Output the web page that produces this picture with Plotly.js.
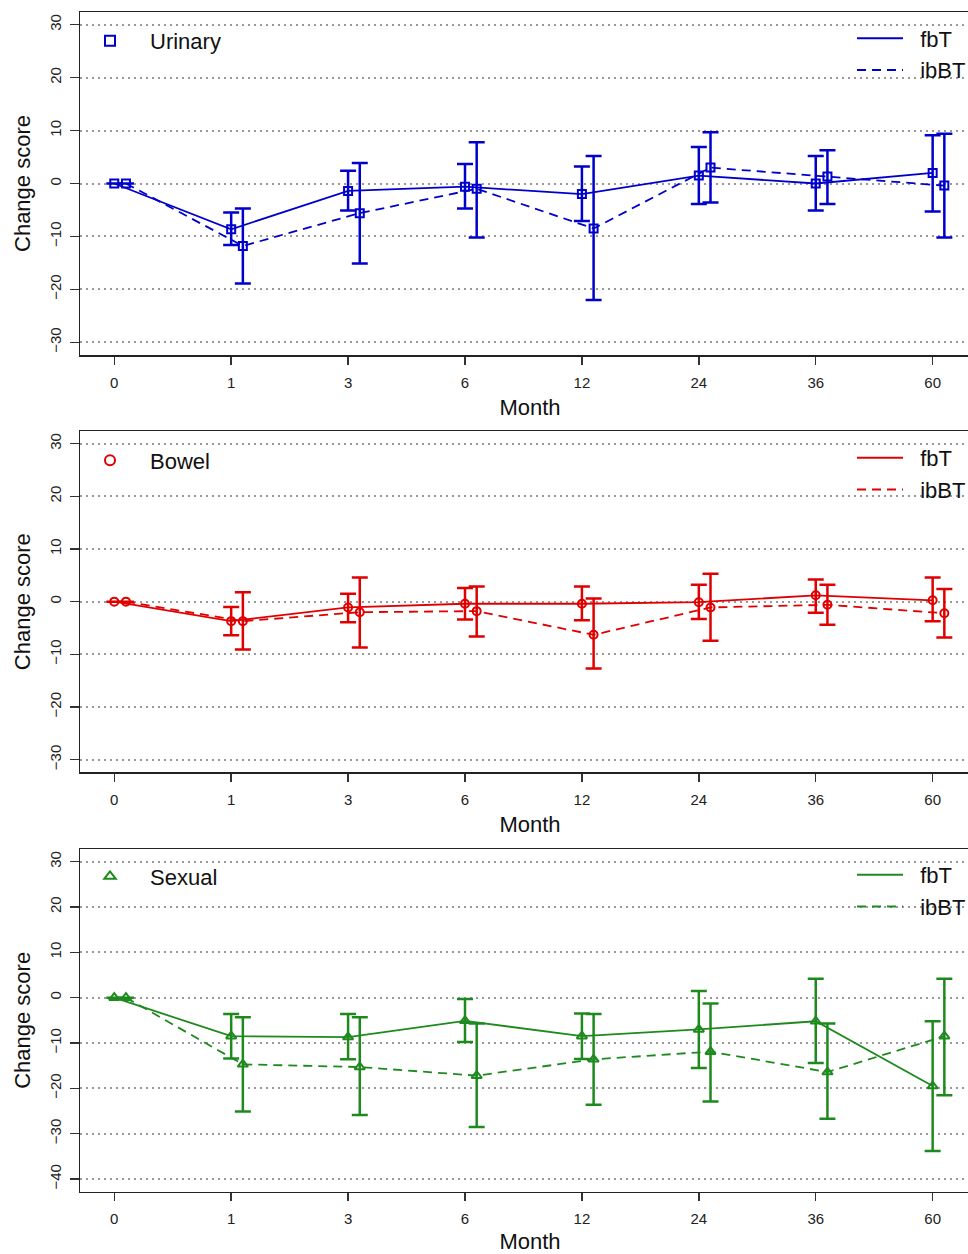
<!DOCTYPE html>
<html>
<head>
<meta charset="utf-8">
<script src="https://cdn.plot.ly/plotly-3.0.1.min.js"></script>
<style>
html, body { margin: 0; padding: 0; overflow: hidden; background: #fff; }
#chart { width: 990px; height: 1254px; }
</style>
</head>
<body>
<div id="chart"></div>
<script>
// ---- Data ----
const months = ['0', '1', '3', '6', '12', '24', '36', '60'];

const urinaryFbT    = [0, -8.65, -1.4, -0.6, -2.0, 1.5, 0.0, 2.0];
const urinaryFbTLo  = [null, -11.6, -5.1, -4.7, -7.1, -3.85, -5.1, -5.3];
const urinaryFbTHi  = [null, -5.5, 2.4, 3.7, 3.2, 6.9, 5.2, 9.1];
const urinaryIbBT   = [0, -11.8, -5.6, -1.0, -8.5, 3.0, 1.3, -0.4];
const urinaryIbBTLo = [null, -18.9, -15.1, -10.2, -22.0, -3.6, -3.85, -10.2];
const urinaryIbBTHi = [null, -4.7, 3.85, 7.8, 5.2, 9.7, 6.3, 9.4];

const bowelFbT    = [0, -3.7, -1.1, -0.4, -0.4, -0.1, 1.2, 0.25];
const bowelFbTLo  = [null, -6.4, -3.9, -3.4, -3.55, -3.3, -2.1, -3.7];
const bowelFbTHi  = [null, -1.0, 1.5, 2.6, 2.9, 3.2, 4.2, 4.6];
const bowelIbBT   = [0, -3.7, -2.0, -1.8, -6.3, -1.1, -0.6, -2.2];
const bowelIbBTLo = [null, -9.1, -8.7, -6.6, -12.7, -7.4, -4.4, -6.8];
const bowelIbBTHi = [null, 1.8, 4.6, 2.9, 0.6, 5.3, 3.2, 2.4];

const sexualFbT    = [0, -8.5, -8.7, -5.1, -8.5, -7.0, -5.2, -19.5];
const sexualFbTLo  = [null, -13.4, -13.6, -9.8, -13.5, -15.5, -14.4, -33.8];
const sexualFbTHi  = [null, -3.6, -3.6, -0.3, -3.5, 1.5, 4.2, -5.2];
const sexualIbBT   = [0, -14.7, -15.3, -17.2, -13.6, -11.9, -16.4, -8.5];
const sexualIbBTLo = [null, -25.1, -25.9, -28.5, -23.6, -22.9, -26.7, -21.5];
const sexualIbBTHi = [null, -4.3, -4.3, -5.7, -3.6, -1.3, -5.7, 4.2];

const panelNames = ['Urinary', 'Bowel', 'Sexual'];
const seriesNames = ['fbT', 'ibBT'];

// ---- Styling ----
const FONT = 'Liberation Sans, Arial, sans-serif';
const panels = [
  { name: panelNames[0], color: '#0000CC', symbol: 'square-open', size: 8,
    fbT: [urinaryFbT, urinaryFbTLo, urinaryFbTHi], ibBT: [urinaryIbBT, urinaryIbBTLo, urinaryIbBTHi],
    yr: [-32.4, 32.4], ticks: [-30, -20, -10, 0, 10, 20, 30], top: 12, bottom: 355,
    legL: 41, legR: 54.5 },
  { name: panelNames[1], color: '#E00000', symbol: 'circle-open', size: 8,
    fbT: [bowelFbT, bowelFbTLo, bowelFbTHi], ibBT: [bowelIbBT, bowelIbBTLo, bowelIbBTHi],
    yr: [-32.4, 32.4], ticks: [-30, -20, -10, 0, 10, 20, 30], top: 431, bottom: 772.3,
    legL: 460.5, legR: 474 },
  { name: panelNames[2], color: '#1E8A1E', symbol: 'triangle-up-open', size: 9,
    fbT: [sexualFbT, sexualFbTLo, sexualFbTHi], ibBT: [sexualIbBT, sexualIbBTLo, sexualIbBTHi],
    yr: [-42.8, 32.8], ticks: [-40, -30, -20, -10, 0, 10, 20, 30], top: 849, bottom: 1191.7,
    legL: 876.5, legR: 891 }
];

const H = 1254, W = 990, ML = 80, MR = 10;
const xIdx = months.map((m, i) => i);
const offsets = [0, 0.1];

const traces = [];
const layout = {
  width: W, height: H,
  margin: { l: ML, r: MR, t: 0, b: 0 },
  paper_bgcolor: '#fff', plot_bgcolor: '#fff',
  font: { family: FONT, color: '#111' },
  showlegend: true
};

function errs(vals, lo, hi) {
  return {
    type: 'data', symmetric: false,
    array: vals.map((v, i) => hi[i] == null ? null : hi[i] - v),
    arrayminus: vals.map((v, i) => lo[i] == null ? null : v - lo[i])
  };
}

panels.forEach((p, k) => {
  const n = k + 1;
  const xa = n === 1 ? 'x' : 'x' + n;
  const ya = n === 1 ? 'y' : 'y' + n;
  const xKey = n === 1 ? 'xaxis' : 'xaxis' + n;
  const yKey = n === 1 ? 'yaxis' : 'yaxis' + n;
  const legA = 'legend' + (2 * k === 0 ? '' : (2 * k + 1));
  const legB = 'legend' + (2 * k + 2);

  ['fbT', 'ibBT'].forEach((s, j) => {
    const [vals, lo, hi] = p[s];
    const e = errs(vals, lo, hi);
    traces.push({
      type: 'scatter', mode: 'lines+markers',
      x: xIdx.map(i => i + offsets[j]), y: vals,
      xaxis: xa, yaxis: ya, showlegend: false, hoverinfo: 'x+y',
      line: { color: p.color, width: 1.8, dash: j === 0 ? 'solid' : '9px,6px' },
      marker: { symbol: p.symbol, size: p.size, color: p.color, line: { color: p.color, width: 2 } },
      error_y: Object.assign(e, { color: p.color, thickness: 2.5, width: 8 })
    });
  });

  // legend entries
  traces.push({
    type: 'scatter', mode: 'markers', x: [null], y: [null], xaxis: xa, yaxis: ya,
    name: p.name, legend: legA, showlegend: true,
    marker: { symbol: p.symbol, size: 10, color: p.color, line: { color: p.color, width: 2 } }
  });
  seriesNames.forEach((s, j) => {
    traces.push({
      type: 'scatter', mode: 'lines', x: [null], y: [null], xaxis: xa, yaxis: ya,
      name: '\u00A0\u00A0' + s, legend: legB, showlegend: true,
      line: { color: p.color, width: 2, dash: j === 0 ? 'solid' : '9px,6px' }
    });
  });

  layout[xKey] = {
    domain: [0, 1], anchor: ya,
    range: [-0.293, 7.405],
    tickmode: 'array', tickvals: xIdx, ticktext: months,
    ticks: 'outside', ticklen: 8, tickwidth: 1.5, tickcolor: '#333',
    tickfont: { family: FONT, size: 15, color: '#222' },
    ticklabelstandoff: 5,
    showgrid: false, zeroline: false,
    showline: true, linecolor: '#222', linewidth: 1.5, mirror: true,
    title: { text: 'Month', font: { family: FONT, size: 22, color: '#111' }, standoff: 10 }
  };
  layout[yKey] = {
    domain: [1 - p.bottom / H, 1 - p.top / H], anchor: xa,
    range: p.yr,
    tickmode: 'array', tickvals: p.ticks,
    ticks: 'outside', ticklen: 9, tickwidth: 1.5, tickcolor: '#333',
    tickangle: -90,
    tickfont: { family: FONT, size: 15, color: '#222' },
    ticklabelstandoff: 3,
    showgrid: true, gridcolor: '#999999', gridwidth: 2, griddash: '2px,4px',
    zeroline: false,
    showline: true, linecolor: '#222', linewidth: 1.5, mirror: false,
    title: { text: 'Change score', font: { family: FONT, size: 22, color: '#111' }, standoff: 10 }
  };

  layout[legA] = {
    x: (70 - ML) / (W - ML - MR), xanchor: 'left',
    y: 1 - p.legL / H, yanchor: 'middle',
    bgcolor: 'rgba(0,0,0,0)', borderwidth: 0,
    itemwidth: 70,
    font: { family: FONT, size: 22, color: '#111' }
  };
  layout[legB] = {
    x: (852 - ML) / (W - ML - MR), xanchor: 'left',
    y: 1 - p.legR / H, yanchor: 'middle',
    bgcolor: 'rgba(0,0,0,0)', borderwidth: 0,
    itemwidth: 46, tracegroupgap: 0,
    font: { family: FONT, size: 22, color: '#111' }
  };
});

Plotly.newPlot('chart', traces, layout, { displayModeBar: false, staticPlot: true });
</script>
</body>
</html>
